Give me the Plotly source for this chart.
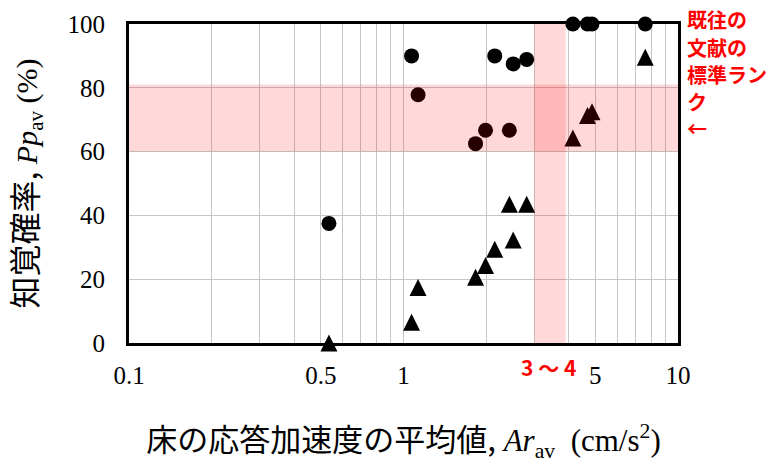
import plotly.graph_objects as go

# Average floor response acceleration (cm/s^2) for each test case
accel = [0.535, 1.07, 1.13, 1.83, 1.99, 2.15, 2.43, 2.51, 2.81, 4.14, 4.68, 4.86, 7.6]
# Perception probability (%) for the two response groups
prob_circle = [37.5, 90.0, 77.8, 62.5, 66.7, 90.0, 66.7, 87.5, 88.9, 100, 100, 100, 100]
prob_triangle = [0, 6.5, 17.4, 20.6, 24.3, 29.4, 43.5, 32.3, 43.5, 64.3, 71.3, 72.5, 89.6]

# Labelled ticks and the extra log-axis grid positions
x_ticks = [0.1, 0.5, 1, 5, 10]
x_tick_text = ["0.1", "0.5", "1", "5", "10"]
x_minor = [0.2, 0.3, 0.4, 0.6, 0.7, 0.8, 0.9, 2, 3, 4, 6, 7, 8, 9]
y_ticks = [0, 20, 40, 60, 80, 100]

# Reference ranges from earlier literature
band_accel = (3, 3.9)
band_prob = (60, 81)

# Side note, one line per row
note_lines = ["既往の", "文献の", "標準ラン", "ク", "←"]

SERIF = "Liberation Serif"
GOTHIC = "Noto Sans CJK JP"
RED = "#ff0000"
GRID = "#c6c6c6"

fig = go.Figure()

fig.add_trace(go.Scatter(
    x=accel, y=prob_circle, mode="markers",
    marker=dict(symbol="circle", size=15, color="black"),
    cliponaxis=False, showlegend=False,
))
fig.add_trace(go.Scatter(
    x=accel, y=prob_triangle, mode="markers",
    marker=dict(symbol="arrow-down", angle=180, standoff=8.5, size=17, color="black"),
    cliponaxis=False, showlegend=False,
))

band_fill = "rgba(255,0,0,0.15)"
fig.add_shape(type="rect", xref="x", yref="y",
              x0=0.1, x1=10, y0=band_prob[0], y1=band_prob[1],
              fillcolor=band_fill, line_width=0, layer="above")
fig.add_shape(type="rect", xref="x", yref="y",
              x0=band_accel[0], x1=band_accel[1], y0=0, y1=100,
              fillcolor=band_fill, line_width=0, layer="above")

# Red side note to the right of the plot, one row every ~27 px
for i, line in enumerate(note_lines):
    fig.add_annotation(
        xref="paper", yref="paper", x=1.013, y=1.0 + (4 - 27.2 * i) / 319,
        xanchor="left", yanchor="middle", align="left", showarrow=False,
        text=line,
        font=dict(family=GOTHIC, size=20, color=RED, weight="bold"),
    )
fig.add_annotation(
    xref="paper", yref="paper", x=0.765, y=-0.075, xanchor="center", yanchor="middle",
    showarrow=False, text="3 〜 4",
    font=dict(family=GOTHIC, size=21, color=RED, weight="bold"),
)

y_title = (f'<span style="font-family:{GOTHIC};font-size:32px">知覚確率,</span>'
           f' <i>Pp</i><sub>av</sub> (%)')
x_title = (f'<span style="font-family:{GOTHIC}">床の応答加速度の平均値,</span>'
           f' <i>Ar</i><sub>av</sub>  (cm/s<sup>2</sup>)')

fig.update_xaxes(
    type="log", range=[-1, 1],
    tickmode="array", tickvals=x_ticks, ticktext=x_tick_text,
    showgrid=True, gridcolor=GRID, gridwidth=1.3,
    minor=dict(tickmode="array", tickvals=x_minor, showgrid=True,
               gridcolor=GRID, gridwidth=1.3, ticks=""),
    showline=True, linecolor="black", linewidth=3, mirror=True,
    ticks="", ticklabelstandoff=8,
    tickfont=dict(family=SERIF, size=25, color="black"),
    title=dict(text=x_title, font=dict(family=SERIF, size=31, color="black"), standoff=42),
    zeroline=False,
)
fig.update_yaxes(
    range=[0, 100], tickmode="array", tickvals=y_ticks,
    showgrid=True, gridcolor=GRID, gridwidth=1.3,
    showline=True, linecolor="black", linewidth=3, mirror=True,
    ticks="", ticklabelstandoff=16,
    tickfont=dict(family=SERIF, size=25, color="black"),
    title=dict(text=y_title, font=dict(family=SERIF, size=30, color="black"), standoff=26),
    zeroline=False,
)

fig.update_layout(
    width=776, height=468,
    margin=dict(l=129, r=98, t=24, b=125, autoexpand=False),
    plot_bgcolor="white", paper_bgcolor="white",
)

fig.write_html("out.html")
